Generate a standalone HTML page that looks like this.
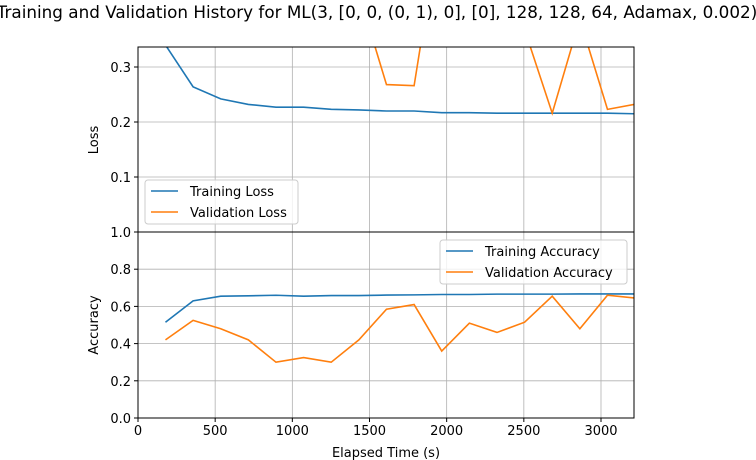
<!DOCTYPE html>
<html><head><meta charset="utf-8"><style>
body{margin:0;background:#fff;}
svg{display:block;font-family:"DejaVu Sans","Liberation Sans",sans-serif;}
</style></head><body>
<svg id="chart" width="756" height="460">
<text x="377" y="18" text-anchor="middle" font-size="16.8">Training and Validation History for ML(3, [0, 0, (0, 1), 0], [0], 128, 128, 64, Adamax, 0.002)</text>
<g id="grid"></g>
<g id="series"></g>
<g id="axes"></g>
</svg>
<script>
const times=[178,357,536,715,894,1073,1252,1431,1610,1789,1968,2147,2326,2505,2684,2863,3042,3217];
const trainLoss=[0.34,0.264,0.242,0.232,0.227,0.227,0.223,0.222,0.220,0.220,0.217,0.217,0.216,0.216,0.216,0.216,0.216,0.215];
const valLoss=[0.5,0.5,0.5,0.5,0.5,0.5,0.5,0.434,0.268,0.266,0.58,0.5,0.5,0.368,0.216,0.387,0.223,0.232];
const trainAcc=[0.515,0.63,0.655,0.657,0.66,0.655,0.658,0.658,0.661,0.662,0.664,0.664,0.666,0.666,0.666,0.667,0.667,0.667];
const valAcc=[0.42,0.525,0.48,0.42,0.30,0.325,0.30,0.42,0.585,0.61,0.36,0.51,0.46,0.515,0.655,0.48,0.66,0.645];
const xTicks=[0,500,1000,1500,2000,2500,3000];
const lossTicks=[0.1,0.2,0.3];
const accTicks=[0,0.2,0.4,0.6,0.8,1.0];
const NS="http://www.w3.org/2000/svg";
const L=138,R=634,T1=47,B1=232,T2=232,B2=418;
const X=v=>L+v*(463/3000);
const Y1=v=>232-v*550;
const Y2=v=>418-v*186;
function el(t,a,p){const e=document.createElementNS(NS,t);for(const k in a)e.setAttribute(k,a[k]);document.getElementById(p).appendChild(e);return e;}
const defs=el('defs',{},'chart');
const c1=document.createElementNS(NS,'clipPath');c1.setAttribute('id','c1');defs.appendChild(c1);
const r1=document.createElementNS(NS,'rect');r1.setAttribute('x',L);r1.setAttribute('y',T1);r1.setAttribute('width',R-L);r1.setAttribute('height',B1-T1);c1.appendChild(r1);
const c2=document.createElementNS(NS,'clipPath');c2.setAttribute('id','c2');defs.appendChild(c2);
const r2=document.createElementNS(NS,'rect');r2.setAttribute('x',L);r2.setAttribute('y',T2);r2.setAttribute('width',R-L);r2.setAttribute('height',B2-T2);c2.appendChild(r2);
xTicks.forEach(t=>{
 if(t===0)return;
 const g=el('line',{x1:X(t),x2:X(t),y1:T1,y2:B2,stroke:'#b0b0b0','stroke-width':0.8},'grid');
 
 
});
lossTicks.forEach(t=>{
 const g=el('line',{x1:L,x2:R,y1:Y1(t),y2:Y1(t),stroke:'#b0b0b0','stroke-width':0.8},'grid');
 
 
});
accTicks.forEach(t=>{
 const g=el('line',{x1:L,x2:R,y1:Y2(t),y2:Y2(t),stroke:'#b0b0b0','stroke-width':0.8},'grid');
 
 
});
function line(vals,Y,color,clip,name){
 const p=el('polyline',{points:vals.map((v,i)=>X(times[i])+','+Y(v)).join(' '),fill:'none',stroke:color,'stroke-width':1.6,'clip-path':'url(#'+clip+')'},'series');
 
 
}
line(trainLoss,Y1,'#1f77b4','c1','training-loss-line');
line(valLoss,Y1,'#ff7f0e','c1','validation-loss-line');
line(trainAcc,Y2,'#1f77b4','c2','training-accuracy-line');
line(valAcc,Y2,'#ff7f0e','c2','validation-accuracy-line');
let f=el('rect',{x:L,y:T1,width:R-L,height:B1-T1,fill:'none',stroke:'#000','stroke-width':1},'axes');

f=el('rect',{x:L,y:T2,width:R-L,height:B2-T2,fill:'none',stroke:'#000','stroke-width':1},'axes');

function txt(x,y,s,anchor,size,name,rot){
 const t=el('text',{x:x,y:y,'text-anchor':anchor,'font-size':size,fill:'#000'},'axes');
 if(rot)t.setAttribute('transform','rotate(-90 '+x+' '+y+')');
 t.textContent=s;
 
 
}
xTicks.forEach(t=>{
 el('line',{x1:X(t),x2:X(t),y1:B2,y2:B2+4,stroke:'#000'},'axes');
 txt(X(t),B2+17,String(t),'middle',13,'x-tick-label');
});
lossTicks.forEach(t=>{
 el('line',{x1:L-4,x2:L,y1:Y1(t),y2:Y1(t),stroke:'#000'},'axes');
 txt(L-7,Y1(t)+5,t.toFixed(1),'end',13,'loss-tick-label');
});
accTicks.forEach(t=>{
 el('line',{x1:L-4,x2:L,y1:Y2(t),y2:Y2(t),stroke:'#000'},'axes');
 txt(L-7,Y2(t)+5,t.toFixed(1),'end',13,'accuracy-tick-label');
});
txt(386,457,'Elapsed Time (s)','middle',13,'x-axis-title');
txt(98,140,'Loss','middle',13,'loss-axis-title',true);
txt(98,325,'Accuracy','middle',13,'accuracy-axis-title',true);
function legend(x,y,w,h,items,name){
 const g=el('g',{},'axes');g.setAttribute('id',name);
 
 
 el('rect',{x:x,y:y,width:w,height:h,rx:3,fill:'#fff','fill-opacity':0.8,stroke:'#ccc'},name);
 items.forEach((it,i)=>{
  const yy=y+11+i*21;
  el('line',{x1:x+6,x2:x+33,y1:yy,y2:yy,stroke:it[1],'stroke-width':1.6},name);
  const t=el('text',{x:x+45,y:yy+5,'font-size':13},name);
  t.textContent=it[0];
  
  
 });
}
legend(145,180,153,44,[['Training Loss','#1f77b4'],['Validation Loss','#ff7f0e']],'loss-legend');
legend(440,240,187,44,[['Training Accuracy','#1f77b4'],['Validation Accuracy','#ff7f0e']],'accuracy-legend');
</script>
</body></html>
